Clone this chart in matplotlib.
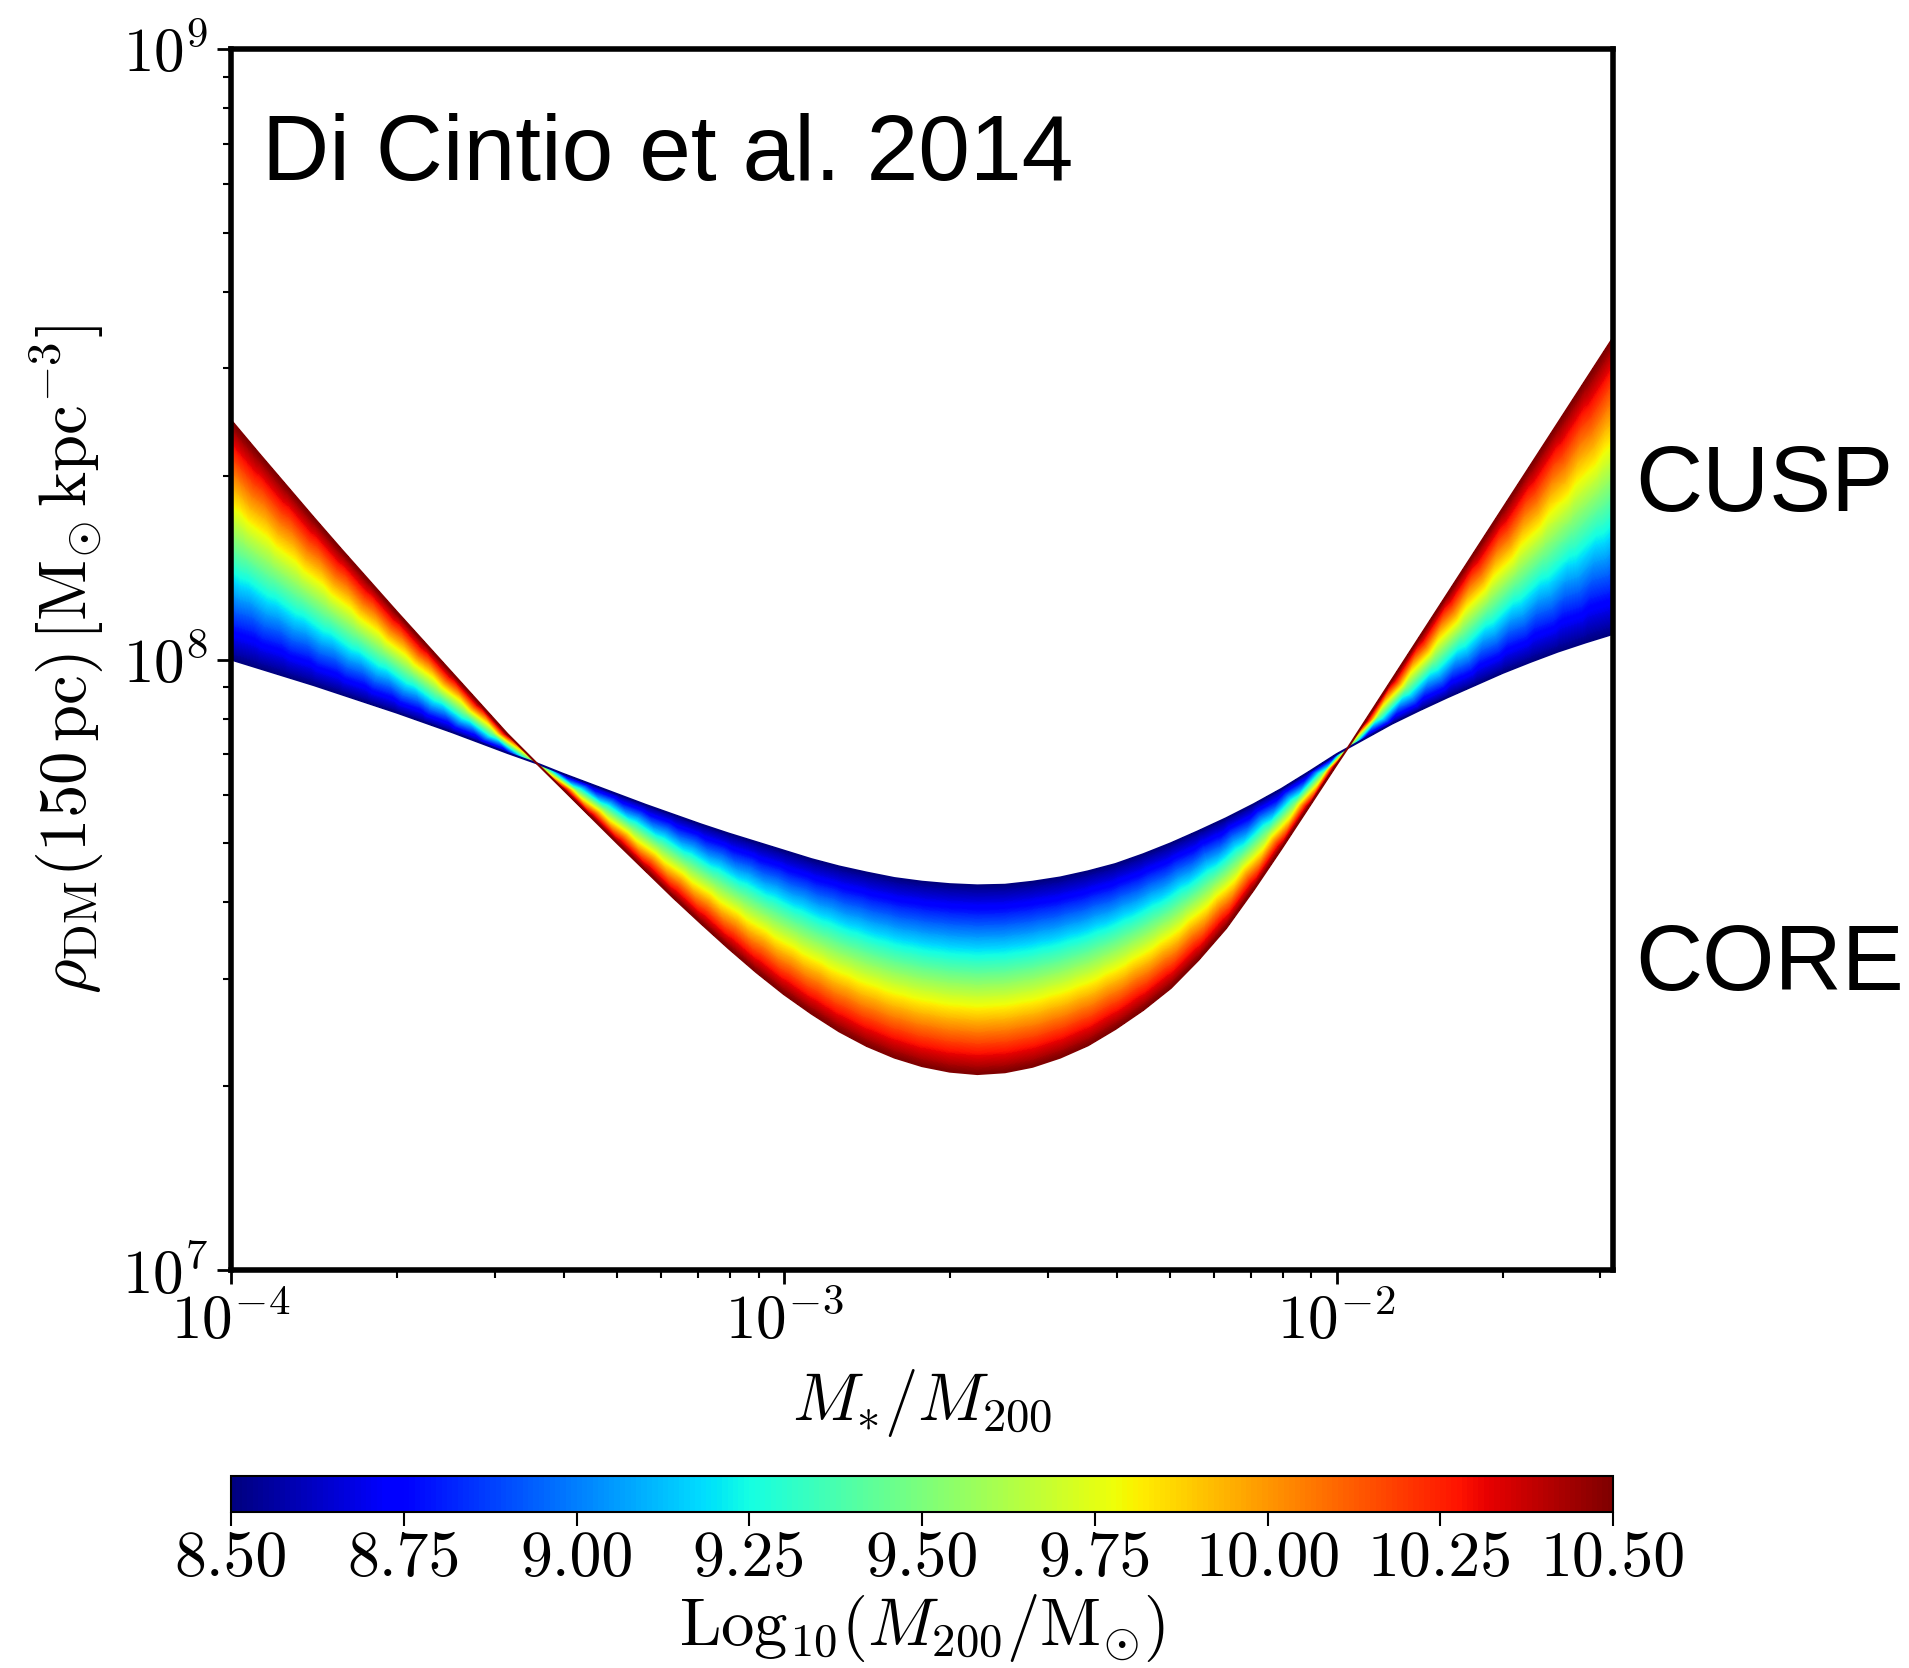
import numpy as np
import matplotlib
matplotlib.use("Agg")
import matplotlib.pyplot as plt
from matplotlib.tri import Triangulation
from matplotlib.colors import Normalize
from matplotlib.cm import ScalarMappable

plt.rcParams["font.family"] = "serif"
plt.rcParams["font.serif"] = ["cmr10"]
plt.rcParams["mathtext.fontset"] = "cm"
plt.rcParams["axes.formatter.use_mathtext"] = True

# ===================== DATA =====================
# log10(M*/M200) sample positions (both crossing points included)
log_ratio = [-4.00, -3.95, -3.90, -3.85, -3.80, -3.75, -3.70, -3.65, -3.60, -3.55,
             -3.50, -3.447, -3.40, -3.35, -3.30, -3.25, -3.20, -3.15, -3.10, -3.05,
             -3.00, -2.95, -2.90, -2.85, -2.80, -2.75, -2.70, -2.65, -2.60, -2.55,
             -2.50, -2.45, -2.40, -2.35, -2.30, -2.25, -2.20, -2.15, -2.10, -2.05,
             -2.00, -1.98, -1.95, -1.90, -1.85, -1.80, -1.75, -1.70, -1.65, -1.60,
             -1.55, -1.50]

# log10 rho_DM(150 pc) for the lightest halo, log10(M200) = 8.5
log_rho_low = [8.000, 7.986, 7.972, 7.958, 7.943, 7.928, 7.913, 7.897, 7.881, 7.864,
               7.847, 7.830, 7.813, 7.796, 7.779, 7.762, 7.746, 7.730, 7.715, 7.701,
               7.687, 7.673, 7.661, 7.651, 7.642, 7.636, 7.632, 7.630, 7.631, 7.636,
               7.643, 7.653, 7.665, 7.681, 7.699, 7.719, 7.740, 7.763, 7.788, 7.816,
               7.845, 7.855, 7.870, 7.895, 7.917, 7.938, 7.958, 7.978, 7.996, 8.013,
               8.028, 8.042]

# log10 rho_DM(150 pc) for the heaviest halo, log10(M200) = 10.5
log_rho_high = [8.392, 8.338, 8.285, 8.232, 8.180, 8.129, 8.078, 8.028, 7.978, 7.928,
                7.878, 7.830, 7.788, 7.743, 7.698, 7.654, 7.610, 7.568, 7.527, 7.488,
                7.452, 7.420, 7.391, 7.367, 7.348, 7.334, 7.325, 7.321, 7.324, 7.333,
                7.348, 7.368, 7.395, 7.426, 7.462, 7.508, 7.560, 7.623, 7.690, 7.759,
                7.828, 7.855, 7.897, 7.967, 8.037, 8.107, 8.177, 8.247, 8.317, 8.387,
                8.457, 8.527]

mass_range = [8.5, 10.5]
cbar_ticks = [8.5, 8.75, 9.0, 9.25, 9.5, 9.75, 10.0, 10.25, 10.5]

# ===================== FIGURE =====================
cmap = plt.get_cmap("jet")
norm = Normalize(vmin=mass_range[0], vmax=mass_range[1])

fig = plt.figure(figsize=(19.09, 16.68), dpi=100)
ax = fig.add_axes([0.121, 0.2386, 0.724, 0.732])
ax.set_xscale("log")
ax.set_yscale("log")

# triangulate the band between the two extreme curves (in log space).
# each cell is split into 4 triangles around its centre so the colour
# bands follow the curves; where the curves meet a single pinch point is used
lr = np.array(log_ratio)
lo = np.array(log_rho_low)
hi = np.array(log_rho_high)
m_mid = np.mean(mass_range)
px, py, pv, cols = [], [], [], []
for i in range(len(lr)):
    if abs(lo[i] - hi[i]) < 1e-9:
        cols.append([len(px)])
        px.append(lr[i]); py.append(lo[i]); pv.append(m_mid)
    else:
        cols.append([len(px), len(px) + 1])
        px += [lr[i], lr[i]]; py += [lo[i], hi[i]]; pv += mass_range
tris = []
for a, b in zip(cols[:-1], cols[1:]):
    if len(a) == 2 and len(b) == 2:
        c = len(px)
        px.append(np.mean([px[k] for k in a + b]))
        py.append(np.mean([py[k] for k in a + b]))
        pv.append(m_mid)
        tris += [[a[0], b[0], c], [b[0], b[1], c], [b[1], a[1], c], [a[1], a[0], c]]
    elif len(a) == 2:
        tris.append([a[0], b[0], a[1]])
    else:
        tris.append([a[0], b[0], b[1]])
tri = Triangulation(px, py, tris)

levels = np.linspace(mass_range[0], mass_range[1], 241)
ax.tricontourf(tri, pv, levels=levels, cmap=cmap, norm=norm, antialiased=False,
               transform=ax.transLimits + ax.transAxes)
# outline of the band
ax.plot(10 ** lr, 10 ** lo, color=cmap(0.0), lw=1.5)
ax.plot(10 ** lr, 10 ** hi, color=cmap(1.0), lw=1.5)

ax.set_xlim(1e-4, 10 ** -1.5)
ax.set_ylim(1e7, 1e9)

for s in ax.spines.values():
    s.set_linewidth(4)
ax.tick_params(which="both", direction="out", top=False, right=False)
ax.tick_params(which="major", length=10, width=2, labelsize=44, pad=6)
ax.tick_params(which="minor", length=6, width=1.5)

ax.set_xlabel(r"$M_{*}/M_{200}$", fontsize=48, labelpad=12)
ax.set_ylabel(r"$\rho_{\rm DM}(150\,{\rm pc})\,[{\rm M}_{\odot}\,{\rm kpc}^{-3}]$",
              fontsize=48, labelpad=12)

sans = ["Liberation Sans", "DejaVu Sans"]
fig.text(0.137, 0.892, "Di Cintio et al. 2014", fontsize=67, family=sans,
         va="baseline")
fig.text(0.8566, 0.6936, "CUSP", fontsize=67, family=sans, va="baseline")
fig.text(0.8566, 0.4066, "CORE", fontsize=67, family=sans, va="baseline")

# ===================== COLORBAR =====================
cax = fig.add_axes([0.121, 0.0935, 0.724, 0.0218])
cb = fig.colorbar(ScalarMappable(norm=norm, cmap=cmap), cax=cax,
                  orientation="horizontal", ticks=cbar_ticks, format="%.2f")
cb.outline.set_linewidth(1.5)
cb.ax.tick_params(labelsize=46, length=10, width=1.5)
cb.set_label(r"${\rm Log}_{10}(M_{200}/{\rm M}_{\odot})$", fontsize=48, labelpad=2)

fig.savefig("out.png", dpi=100)
